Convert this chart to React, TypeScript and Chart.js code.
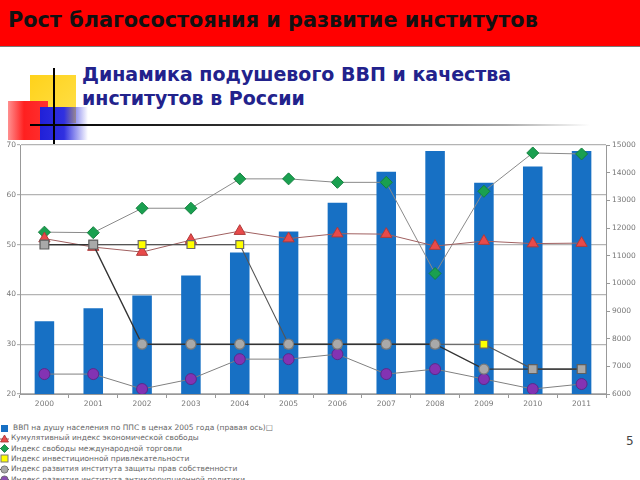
import React, { useEffect, useRef } from "react";
import { Chart, registerables } from "chart.js";
Chart.register(...registerables);

const years = ["2000", "2001", "2002", "2003", "2004", "2005", "2006", "2007", "2008", "2009", "2010", "2011"];
const gdpPerCapita = [8630, 9100, 9560, 10280, 11110, 11870, 12910, 14030, 14780, 13640, 14220, 14780];
const economicFreedom = [51.2, 49.5, 48.5, 50.9, 52.7, 51.2, 52.2, 52.1, 49.7, 50.7, 50.2, 50.3];
const tradeFreedom = [52.5, 52.4, 57.3, 57.3, 63.2, 63.2, 62.5, 62.5, 44.2, 60.7, 68.4, 68.2];
const investmentFreedom = [50, 50, 50, 50, 50, 30, 30, 30, 30, 30, 25, 25];
const propertyRights = [50, 50, 30, 30, 30, 30, 30, 30, 30, 25, 25, 25];
const corruptionFreedom = [24, 24, 21, 23, 27, 27, 28, 24, 25, 23, 21, 22];

const leftMin = 20;
const leftMax = 70;
const leftStep = 10;
const rightMin = 6000;
const rightMax = 15000;
const rightStep = 1000;

const headerText = "Рост благосостояния и развитие институтов";
const titleLines = ["Динамика подушевого ВВП и качества", "институтов в России"];
const legendLabels = [
  "ВВП на душу населения по ППС в ценах 2005 года (правая ось)□",
  "Кумулятивный индекс экономической свободы",
  "Индекс свободы международной торговли",
  "Индекс инвестиционной привлекательности",
  "Индекс развития института защиты прав собственности",
  "Индекс развития института антикоррупционной политики",
];
const pageNumber = "5";

// marker shapes of the property-rights series as seen in the picture
const propertyMarkerShapes = ["rect", "rect", "circle", "circle", "circle", "circle", "circle", "circle", "circle", "circle", "rect", "rect"];

const BAR = "#1770c4";
const GRAY_PT = "#a9a9a9";
const YELLOW = "#ffff00";

const tickFont = { family: "DejaVu Sans", size: 7.5 };

function LegendMarker({ kind }: { kind: number }) {
  const s = 9;
  let shape: React.ReactNode = null;
  if (kind === 0) shape = <rect x={1} y={1} width={7} height={7} fill={BAR} />;
  if (kind === 1)
    shape = (
      <g>
        <line x1={0} y1={5} x2={9} y2={5} stroke="#a05050" strokeWidth={1} />
        <polygon points="4.5,1 8.5,8 0.5,8" fill="#e84a4a" stroke="#a03030" strokeWidth={0.8} />
      </g>
    );
  if (kind === 2)
    shape = (
      <g>
        <line x1={0} y1={4.5} x2={9} y2={4.5} stroke="#888" strokeWidth={1} />
        <polygon points="4.5,0.5 8.5,4.5 4.5,8.5 0.5,4.5" fill="#1aa050" stroke="#0e7038" strokeWidth={0.8} />
      </g>
    );
  if (kind === 3) shape = <rect x={1} y={1} width={7} height={7} fill={YELLOW} stroke="#777" strokeWidth={1} />;
  if (kind === 4)
    shape = (
      <g>
        <line x1={0} y1={4.5} x2={9} y2={4.5} stroke="#444" strokeWidth={1} />
        <circle cx={4.5} cy={4.5} r={3.6} fill={GRAY_PT} stroke="#666" strokeWidth={0.8} />
      </g>
    );
  if (kind === 5)
    shape = (
      <g>
        <line x1={0} y1={4.5} x2={9} y2={4.5} stroke="#777" strokeWidth={1} />
        <circle cx={4.5} cy={4.5} r={3.6} fill="#8a4fb0" stroke="#666" strokeWidth={0.8} />
      </g>
    );
  return (
    <svg width={s} height={s} style={{ position: "absolute", left: 0, top: 0.5 }}>
      {shape}
    </svg>
  );
}

export default function App() {
  const ref = useRef<HTMLCanvasElement | null>(null);

  useEffect(() => {
    if (!ref.current) return;
    const propertyRadii = propertyMarkerShapes.map((s) => (s === "rect" ? 6.2 : 5));
    const propertyBorders = propertyMarkerShapes.map((s) => (s === "rect" ? "#5f5f5f" : "#7a7a7a"));
    const chart = new Chart(ref.current, {
      type: "bar",
      data: {
        labels: years,
        datasets: [
          {
            type: "line",
            label: legendLabels[4],
            data: propertyRights,
            yAxisID: "y",
            borderColor: "#333",
            borderWidth: 1.4,
            pointStyle: propertyMarkerShapes as any,
            pointRadius: propertyRadii,
            pointBackgroundColor: GRAY_PT,
            pointBorderColor: propertyBorders,
            pointBorderWidth: 1.2,
            order: 1,
          },
          {
            type: "line",
            label: legendLabels[3],
            data: investmentFreedom,
            yAxisID: "y",
            borderColor: "#555",
            borderWidth: 1.1,
            pointStyle: "rect",
            pointRadius: 5.5,
            pointBackgroundColor: YELLOW,
            pointBorderColor: "#6a6a6a",
            pointBorderWidth: 1.2,
            order: 2,
          },
          {
            type: "line",
            label: legendLabels[1],
            data: economicFreedom,
            yAxisID: "y",
            borderColor: "#a06060",
            borderWidth: 1,
            pointStyle: "triangle",
            pointRadius: 6.5,
            pointBackgroundColor: "#e84a4a",
            pointBorderColor: "#b03a3a",
            pointBorderWidth: 1,
            order: 3,
          },
          {
            type: "line",
            label: legendLabels[2],
            data: tradeFreedom,
            yAxisID: "y",
            borderColor: "#8a8a8a",
            borderWidth: 1,
            pointStyle: "rectRot",
            pointRadius: 6,
            pointBackgroundColor: "#1aa050",
            pointBorderColor: "#13803e",
            pointBorderWidth: 1,
            order: 4,
          },
          {
            type: "line",
            label: legendLabels[5],
            data: corruptionFreedom,
            yAxisID: "y",
            borderColor: "#808080",
            borderWidth: 1,
            pointStyle: "circle",
            pointRadius: 5.5,
            pointBackgroundColor: "#8333b3",
            pointBorderColor: "#5b2a8a",
            pointBorderWidth: 1,
            order: 5,
          },
          {
            type: "bar",
            label: legendLabels[0],
            data: gdpPerCapita,
            yAxisID: "y1",
            backgroundColor: BAR,
            borderWidth: 0,
            barPercentage: 0.4,
            categoryPercentage: 1,
            order: 10,
          },
        ],
      },
      options: {
        responsive: false,
        animation: false,
        layout: { padding: { top: 10, left: 0, right: 0, bottom: 0 } },
        plugins: { legend: { display: false }, tooltip: { enabled: false }, title: { display: false } },
        scales: {
          x: {
            offset: true,
            grid: { offset: true, drawOnChartArea: false, drawTicks: true, tickLength: 4, color: "#999" },
            border: { display: true, color: "#999" },
            ticks: { color: "#777", font: tickFont, padding: 2, maxRotation: 0, autoSkip: false },
            afterFit: (s: any) => {
              s.height = 26;
            },
          },
          y: {
            position: "left",
            min: leftMin,
            max: leftMax,
            ticks: { stepSize: leftStep, color: "#777", font: tickFont, padding: 1, callback: (v: any) => String(v) },
            grid: { color: "#b4b4b4", lineWidth: 1.2, tickLength: 3 },
            border: { display: true, color: "#999" },
            afterFit: (s: any) => {
              s.width = 20;
            },
          },
          y1: {
            position: "right",
            min: rightMin,
            max: rightMax,
            ticks: { stepSize: rightStep, color: "#777", font: tickFont, padding: 2, callback: (v: any) => String(v) },
            grid: { drawOnChartArea: false, drawTicks: true, tickLength: 4, color: "#999" },
            border: { display: true, color: "#999" },
            afterFit: (s: any) => {
              s.width = 34;
            },
          },
        },
      },
    });
    return () => chart.destroy();
  }, []);

  return (
    <div style={{ position: "absolute", left: 0, top: 0, width: 640, height: 480, overflow: "hidden", background: "#fff" }}>
      <div
        style={{
          position: "absolute",
          left: 0,
          top: 0,
          width: 640,
          height: 46,
          background: "#ff0000",
          borderBottom: "1px solid #7a7a7a",
        }}
      >
        <div
          style={{
            position: "absolute",
            left: 8,
            top: 7,
            fontFamily: "DejaVu Sans",
            fontWeight: "bold",
            fontSize: 20.8,
            lineHeight: "27px",
            color: "#111",
            whiteSpace: "nowrap",
          }}
        >
          {headerText}
        </div>
      </div>
      {/* decorative squares */}
      <div style={{ position: "absolute", left: 30, top: 75, width: 46, height: 48, background: "linear-gradient(135deg, #ffd21a, #ffe04a)" }} />
      <div style={{ position: "absolute", left: 8, top: 101, width: 40, height: 39, background: "linear-gradient(90deg, #ff9090 0%, #ff2020 40%, #ff3030 100%)" }} />
      <div style={{ position: "absolute", left: 40, top: 107, width: 48, height: 33, background: "linear-gradient(90deg, #2020d8 0%, #3030e0 50%, rgba(60,60,230,0) 100%)" }} />
      <div style={{ position: "absolute", left: 53, top: 68, width: 2, height: 76, background: "#000" }} />
      <div style={{ position: "absolute", left: 30, top: 124, width: 560, height: 2, background: "linear-gradient(90deg, #000 0%, #333 40%, #aaa 85%, rgba(200,200,200,0) 100%)" }} />
      <div
        style={{
          position: "absolute",
          left: 82,
          top: 62,
          fontFamily: "DejaVu Sans",
          fontWeight: "bold",
          fontSize: 19,
          lineHeight: "24px",
          color: "#22228c",
          whiteSpace: "nowrap",
        }}
      >
        {titleLines.map((t) => (
          <div key={t}>{t}</div>
        ))}
      </div>
      <canvas ref={ref} width={640} height={285} style={{ position: "absolute", left: 0, top: 135, display: "block" }} />
      <div style={{ position: "absolute", left: 0, top: 423, width: 400 }}>
        {legendLabels.map((t, i) => (
          <div
            key={t}
            style={{
              position: "absolute",
              left: 0,
              top: i * 10.3,
              height: 10,
              whiteSpace: "nowrap",
              fontFamily: "DejaVu Sans",
              fontSize: 7.5,
              lineHeight: "10px",
              color: "#666",
            }}
          >
            <LegendMarker kind={i} />
            <span style={{ position: "absolute", left: i === 0 ? 13 : 11, top: 0 }}>{t}</span>
          </div>
        ))}
      </div>
      <div style={{ position: "absolute", left: 626, top: 434, fontFamily: "DejaVu Sans", fontSize: 12, color: "#444" }}>{pageNumber}</div>
    </div>
  );
}
